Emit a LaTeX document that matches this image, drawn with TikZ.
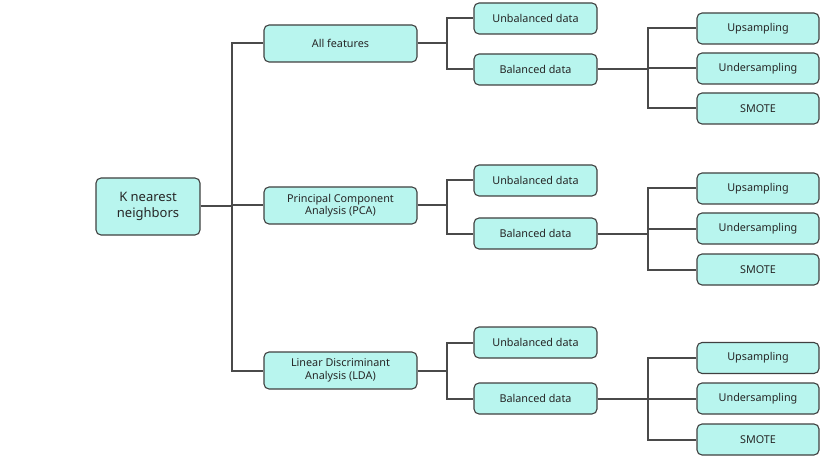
\documentclass[tikz,border=0pt]{standalone}
\usepackage{fontspec}
\setmainfont{Noto Sans}
\definecolor{boxfill}{HTML}{B8F5EE}
\definecolor{boxline}{HTML}{404040}
\definecolor{linkline}{HTML}{4A4A4A}
\begin{document}
\begin{tikzpicture}[x=1pt,y=-1pt,
  box/.style={draw=boxline,fill=boxfill,line width=1.1pt,rounded corners=5pt,
    inner sep=0pt,align=center,text=black!85,font=\fontsize{10.8}{12.5}\selectfont},
  rootbox/.style={box,minimum width=104pt,minimum height=57pt,font=\fontsize{13}{16.5}\selectfont},
  midbox/.style={box,minimum width=153pt,minimum height=37pt},
  leafbox/.style={box,minimum width=123pt,minimum height=31pt},
  tipbox/.style={box,minimum width=122pt,minimum height=31pt},
  link/.style={draw=linkline,line width=2pt}]
\useasboundingbox (0,0) rectangle (827,465);

% connector corner points
\coordinate (kt) at (232,206.5);

% root
\node[rootbox] (knn) at (148,206.5) {K nearest\\neighbors};

% feature sets
\node[midbox] (all) at (340.5,43.5) {All features};
\node[midbox] (pca) at (340.5,205.5) {Principal Component\\Analysis (PCA)};
\node[midbox] (lda) at (340.5,370.5) {Linear Discriminant\\Analysis (LDA)};

% data balance, group 1
\node[leafbox] (ub1) at (535.5,18.5) {Unbalanced data};
\node[leafbox] (b1) at (535.5,69.5) {Balanced data};
\node[tipbox] (up1) at (758,28.5) {Upsampling};
\node[tipbox] (un1) at (758,68.5) {Undersampling};
\node[tipbox] (sm1) at (758,108.5) {SMOTE};

% group 2
\node[leafbox] (ub2) at (535.5,180.5) {Unbalanced data};
\node[leafbox] (b2) at (535.5,233.5) {Balanced data};
\node[tipbox] (up2) at (758,188.5) {Upsampling};
\node[tipbox] (un2) at (758,228.5) {Undersampling};
\node[tipbox] (sm2) at (758,269.5) {SMOTE};

% group 3
\node[leafbox] (ub3) at (535.5,342.5) {Unbalanced data};
\node[leafbox] (b3) at (535.5,398.5) {Balanced data};
\node[tipbox] (up3) at (758,358) {Upsampling};
\node[tipbox] (un3) at (758,398.5) {Undersampling};
\node[tipbox] (sm3) at (758,439.5) {SMOTE};

% elbow connectors
\foreach \c in {all,pca,lda}
  \draw[link] (knn.east) -- (kt) |- (\c.west);
\foreach \p/\i in {all/1,pca/2,lda/3}{
  \draw[link] (\p.east) -- ++(29,0) |- (ub\i.west);
  \draw[link] (\p.east) -- ++(29,0) |- (b\i.west);
  \foreach \t in {up,un,sm}
    \draw[link] (b\i.east) -- ++(50,0) |- (\t\i.west);
}
\end{tikzpicture}
\end{document}
